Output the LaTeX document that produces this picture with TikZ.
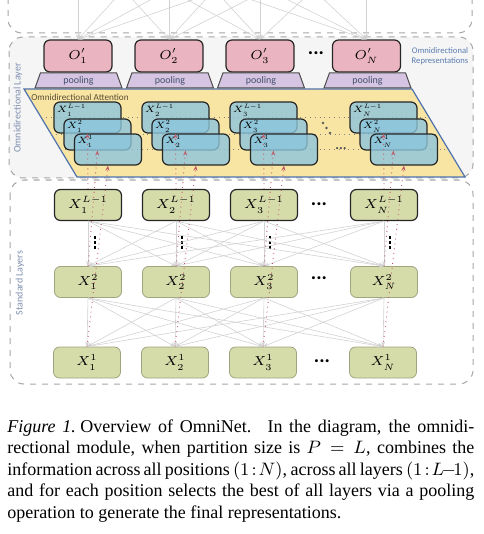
\RequirePackage{fix-cm}
\documentclass[tikz,border=0pt]{standalone}
\usepackage{fontspec}
\setmainfont{Liberation Serif}
\newfontfamily\calib{Carlito}
\usepackage{tikz}
\usetikzlibrary{shapes.geometric,arrows.meta,calc}
\definecolor{opink}{HTML}{EAB5C0}
\definecolor{ppurple}{HTML}{D5C4E2}
\definecolor{pooltext}{HTML}{44506E}
\definecolor{cblue}{HTML}{8CC5DC}
\definecolor{yplane}{HTML}{F8E5A3}
\definecolor{planeedge}{HTML}{4E72AE}
\definecolor{sgreen}{HTML}{D5DBA9}
\definecolor{rarrow}{HTML}{C05A6A}
\definecolor{labblue}{HTML}{7F8FB0}
\definecolor{replab}{HTML}{5B7DB1}
\definecolor{attlab}{HTML}{5A4E33}
\definecolor{omnifill}{HTML}{F5F5F5}

\begin{document}
\begin{tikzpicture}[
			x=0.5pt, y=-0.5pt,
			every node/.style = {inner sep=0pt},
			outbox/.style = {draw=gray!70,dashed,line width=0.5pt,rounded corners=7pt},
			onode/.style = {draw=black!85,fill=opink,rounded corners=3pt,line width=0.6pt,minimum width=34pt,minimum height=16pt,font=\fontsize{6.5}{7}\selectfont},
			pool/.style = {trapezium,trapezium angle=58,trapezium stretches body,draw=black!70,fill=ppurple,line width=0.5pt,minimum width=43.5pt,minimum height=7.5pt,font=\calib\fontsize{5}{5}\selectfont,text=pooltext},
			card/.style = {draw=black!85,fill=cblue,fill opacity=0.8,text opacity=1,rounded corners=3pt,line width=0.6pt,minimum width=33.5pt,minimum height=15.5pt},
			clab/.style = {anchor=north west,inner xsep=1.5pt,inner ysep=1pt,font=\fontsize{4.6}{5}\selectfont},
			snode/.style = {fill=sgreen,draw=sgreen!75!black,rounded corners=3pt,line width=0.4pt,minimum width=33.5pt,minimum height=15.5pt,font=\fontsize{6.5}{7}\selectfont},
			snodetop/.style = {snode,draw=black!85,line width=0.6pt},
			conn/.style = {draw=gray!35,line width=0.3pt,-{Stealth[length=2.5pt,width=2pt]}},
			redarr/.style = {draw=rarrow,dotted,line width=0.45pt,-{Stealth[length=2.5pt,width=2pt]}},
			rowline/.style = {draw=black!50,dotted,line width=0.4pt},
			hdots/.style = {font=\calib\bfseries\fontsize{10}{10}\selectfont},
			sidelab/.style = {rotate=90,font=\calib\fontsize{5}{5}\selectfont,text=labblue}
			]
			\clip (0,0) rectangle (483,534);

			\draw[outbox] (8,-40) rectangle (472,33);
			\draw[outbox,fill=omnifill] (9,37) rectangle (473,178);
			\draw[outbox] (10,180) rectangle (473,384);

			\node[sidelab] (omnilab) at (18,108) {Omnidirectional Layer};
			\node[sidelab] (stdlab) at (20,283) {Standard Layers};

			\coordinate (pa) at (24,89);
			\coordinate (pb) at (412,89);
			\coordinate (pc) at (465,177);
			\coordinate (pd) at (77,177);
			\draw[planeedge,fill=yplane,line width=0.6pt] (pa) -- (pb) -- (pc) -- (pd) -- cycle;
			\node[anchor=west,font=\calib\fontsize{4.6}{5}\selectfont,text=attlab] (attlab) at (31,97) {Omnidirectional Attention};

			\draw[rowline] ($(pa)!0.324!(pd)$) -- ($(pb)!0.324!(pc)$);
			\draw[rowline] ($(pa)!0.517!(pd)$) -- ($(pb)!0.517!(pc)$);
			\draw[rowline] ($(pa)!0.688!(pd)$) -- ($(pb)!0.688!(pc)$);

			\coordinate (up1) at (78,-60);
			\coordinate (up2) at (169,-60);
			\coordinate (up3) at (260,-60);
			\coordinate (upN) at (366.5,-60);

			\node[onode] (o1) at (78,56) {$O'_1$};
			\node[onode] (o2) at (169,56) {$O'_2$};
			\node[onode] (o3) at (260,56) {$O'_3$};
			\node[onode] (oN) at (366.5,56) {$O'_N$};
			\node[hdots] (odots) at (316,53) {...};
			\node[align=center,font=\calib\fontsize{4.3}{5}\selectfont,text=replab] (replab) at (440,56) {Omnidirectional\\Representations};

			\foreach \a in {1,2,3,N}
				\foreach \b in {1,2,3,N}
					\draw[conn] (up\a) -- (o\b.north);

			\node[pool] (p1) at (78.5,80.5) {pooling};
			\node[pool] (p2) at (170,80.5) {pooling};
			\node[pool] (p3) at (261,80.5) {pooling};
			\node[pool] (pN) at (367.5,80.5) {pooling};

			\node[card] (aL1) at (87.5,117.5) {};
			\node[card] (at1) at (97.5,134.5) {};
			\node[card] (ao1) at (108,149.5) {};
			\node[card] (aL2) at (175.5,117.5) {};
			\node[card] (at2) at (185.5,134.5) {};
			\node[card] (ao2) at (196,149.5) {};
			\node[card] (aL3) at (263.5,117.5) {};
			\node[card] (at3) at (273.5,134.5) {};
			\node[card] (ao3) at (284,149.5) {};
			\node[card] (aLN) at (383.5,117.5) {};
			\node[card] (atN) at (393.5,134.5) {};
			\node[card] (aoN) at (404,149.5) {};

			\node[clab] (laL1) at (aL1.north west) {$X_1^{L-1}$};
			\node[clab] (lat1) at (at1.north west) {$X_1^{2}$};
			\node[clab] (lao1) at (ao1.north west) {$X_1^{1}$};
			\node[clab] (laL2) at (aL2.north west) {$X_2^{L-1}$};
			\node[clab] (lat2) at (at2.north west) {$X_2^{2}$};
			\node[clab] (lao2) at (ao2.north west) {$X_2^{1}$};
			\node[clab] (laL3) at (aL3.north west) {$X_3^{L-1}$};
			\node[clab] (lat3) at (at3.north west) {$X_3^{2}$};
			\node[clab] (lao3) at (ao3.north west) {$X_3^{1}$};
			\node[clab] (laLN) at (aLN.north west) {$X_N^{L-1}$};
			\node[clab] (latN) at (atN.north west) {$X_N^{2}$};
			\node[clab] (laoN) at (aoN.north west) {$X_N^{1}$};

			\fill[black!65] (323,123) circle (1.3);
			\fill[black!65] (326.5,128) circle (1.3);
			\fill[black!65] (330,133) circle (1.3);
			\node[font=\calib\bfseries\fontsize{7}{7}\selectfont,text=black!70] (ahdots) at (341,149) {...};

			\node[snodetop] (xL1) at (88,205) {$X_1^{L-1}$};
			\node[snodetop] (xL2) at (176,205) {$X_2^{L-1}$};
			\node[snodetop] (xL3) at (264,205) {$X_3^{L-1}$};
			\node[snodetop] (xLN) at (384,205) {$X_N^{L-1}$};
			\node[snode] (xt1) at (88,282) {$X_1^{2}$};
			\node[snode] (xt2) at (176,282) {$X_2^{2}$};
			\node[snode] (xt3) at (264,282) {$X_3^{2}$};
			\node[snode] (xtN) at (384,282) {$X_N^{2}$};
			\node[snode] (xo1) at (87,362.5) {$X_1^{1}$};
			\node[snode] (xo2) at (175,362.5) {$X_2^{1}$};
			\node[snode] (xo3) at (263,362.5) {$X_3^{1}$};
			\node[snode] (xoN) at (383,362.5) {$X_N^{1}$};

			\node[hdots] (sdL) at (319,204) {...};
			\node[hdots] (sdt) at (319,278) {...};
			\node[hdots] (sdo) at (322,361) {...};
			\foreach \vx in {95,182,270,390}
				\foreach \vy in {237.5,242.5,247.5}
					\fill (\vx-1.3,\vy-1.3) rectangle (\vx+1.3,\vy+1.3);

			\foreach \a in {1,2,3,N}
				\foreach \b in {1,2,3,N}{
					\draw[conn] (xL\a.south) -- (xt\b.north);
					\draw[conn] (xt\a.south) -- (xo\b.north);
				}

			\foreach \a in {1,2,3,N}{
				\draw[redarr] (xL\a.north) -- (aL\a.south);
				\draw[redarr] (xt\a.north) -- (at\a.south);
				\draw[redarr] (xo\a.north) -- (ao\a.south);
			}

			\node[anchor=north west,text width=233.5pt,align=justify,font=\fontsize{9}{10.75}\selectfont] (caption) at (7,419) {\textit{Figure 1.}\hspace{0.25em}Overview of OmniNet.\hspace{0.9em}In the diagram, the omnidi-\linebreak rectional module, when partition size is $P=L$, combines the\linebreak information across all positions $(1\!:\!N)$, across all layers $(1\!:\!L\!-\!1)$,\linebreak and for each position selects the best of all layers via a pooling\linebreak operation to generate the final representations.};

		\end{tikzpicture}
\end{document}
